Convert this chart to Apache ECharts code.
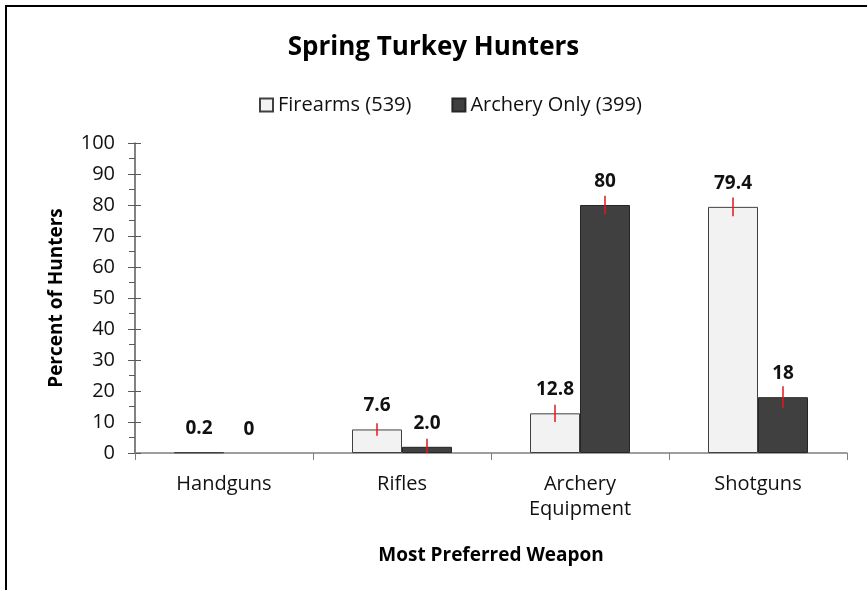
<!DOCTYPE html>
<html>
<head>
<meta charset="utf-8">
<script src="https://cdn.jsdelivr.net/npm/echarts@6/dist/echarts.min.js"></script>
<style>
  html, body { margin: 0; padding: 0; background: #fff; }
  #chart { width: 867px; height: 590px; }
</style>
</head>
<body>
<div id="chart"></div>
<script>
// weapon categories
var categories = ['Handguns', 'Rifles', 'Archery\nEquipment', 'Shotguns'];
// percent of hunters
var firearms = [0.2, 7.6, 12.8, 79.4];
var archery = [0, 2.0, 80, 18];
var firearmsLabels = ['0.2', '7.6', '12.8', '79.4'];
var archeryLabels = ['0', '2.0', '80', '18'];
// error margins
var firearmsErr = [0, 2, 2.8, 3];
var archeryErr = [0, 2.6, 3, 3.5];
var yTicks = [0, 10, 20, 30, 40, 50, 60, 70, 80, 90, 100];

var FONT = '"Open Sans", sans-serif';
var BAR_W = 50;

// a zero bar has no outline in the original
function barData(vals) {
  return vals.map(function (v) {
    return v === 0 ? { value: v, itemStyle: { borderWidth: 0 } } : v;
  });
}

function errData(vals, errs) {
  return vals.map(function (v, i) {
    return [i, Math.max(0, v - errs[i]), v + errs[i]];
  });
}

function errSeries(vals, errs, side) {
  return {
    type: 'custom',
    xAxisIndex: 0,
    yAxisIndex: 0,
    z: 5,
    silent: true,
    itemStyle: { color: '#e8141b' },
    data: errData(vals, errs),
    renderItem: function (params, api) {
      if (api.value(2) - api.value(1) <= 0) return null;
      var lo = api.coord([api.value(0), api.value(1)]);
      var hi = api.coord([api.value(0), api.value(2)]);
      var x = lo[0] + side * BAR_W / 2;
      return {
        type: 'line',
        shape: { x1: x, y1: lo[1], x2: x, y2: hi[1] },
        style: { stroke: '#e8141b', fill: null, lineWidth: 1.5 }
      };
    }
  };
}

var chart = echarts.init(document.getElementById('chart'));
var option = {
  backgroundColor: '#fff',
  animation: false,
  textStyle: { fontFamily: FONT },
  graphic: [{
    type: 'rect',
    shape: { x: 6, y: 6, width: 900, height: 640 },
    style: { fill: 'none', stroke: '#000', lineWidth: 2 },
    silent: true,
    z: -1
  }],
  title: {
    text: 'Spring Turkey Hunters',
    left: 'center',
    top: 30,
    textStyle: { fontFamily: FONT, fontSize: 26, fontWeight: 'bold', color: '#000' }
  },
  legend: {
    data: ['Firearms (539)', 'Archery Only (399)'],
    top: 90,
    left: 254,
    icon: 'rect',
    itemWidth: 13,
    itemHeight: 13,
    itemGap: 40,
    textStyle: { fontFamily: FONT, fontSize: 20, color: '#111' }
  },
  grid: { left: 135, right: 20, top: 143, bottom: 137 },
  xAxis: {
    type: 'category',
    data: categories,
    name: 'Most Preferred Weapon',
    nameLocation: 'middle',
    nameGap: 93,
    nameTextStyle: { fontFamily: FONT, fontSize: 19, fontWeight: 'bold', color: '#000' },
    axisLine: { lineStyle: { color: '#7f7f7f', width: 1.5 } },
    axisTick: { show: true, length: 7, lineStyle: { color: '#7f7f7f' } },
    axisLabel: { fontFamily: FONT, fontSize: 20, color: '#111', margin: 19, lineHeight: 25 }
  },
  yAxis: [{
    type: 'value',
    min: 0,
    max: 100,
    interval: 10,
    name: 'Percent of Hunters',
    nameLocation: 'middle',
    nameGap: 69,
    nameTextStyle: { fontFamily: FONT, fontSize: 19, fontWeight: 'bold', color: '#000' },
    axisLine: { show: true, lineStyle: { color: '#595959', width: 1.5 } },
    axisTick: { show: true, length: 7, lineStyle: { color: '#595959' } },
    minorTick: { show: true, splitNumber: 2, length: 6, lineStyle: { color: '#595959' } },
    splitLine: { show: false },
    axisLabel: {
      fontFamily: FONT, fontSize: 20, color: '#111', margin: 20,
      formatter: function (v) { return yTicks.indexOf(v) >= 0 ? String(v) : ''; }
    }
  }, {
    // inner half of the crossing major ticks
    type: 'value',
    position: 'left',
    min: 0,
    max: 100,
    interval: 10,
    axisLine: { show: false },
    axisTick: { show: true, inside: true, length: 6, lineStyle: { color: '#595959' } },
    axisLabel: { show: false },
    splitLine: { show: false }
  }],
  series: [{
    name: 'Firearms (539)',
    type: 'bar',
    data: barData(firearms),
    barWidth: BAR_W,
    barGap: '0%',
    itemStyle: { color: '#f2f2f2', borderColor: '#404040', borderWidth: 1 },
    label: {
      show: true,
      position: 'top',
      distance: 14,
      fontFamily: FONT,
      fontSize: 19,
      fontWeight: 'bold',
      color: '#111',
      formatter: function (p) { return firearmsLabels[p.dataIndex]; }
    }
  }, {
    name: 'Archery Only (399)',
    type: 'bar',
    data: barData(archery),
    barWidth: BAR_W,
    barGap: '0%',
    itemStyle: { color: '#404040', borderColor: '#262626', borderWidth: 1 },
    label: {
      show: true,
      position: 'top',
      distance: 14,
      fontFamily: FONT,
      fontSize: 19,
      fontWeight: 'bold',
      color: '#111',
      formatter: function (p) { return archeryLabels[p.dataIndex]; }
    }
  },
  errSeries(firearms, firearmsErr, -1),
  errSeries(archery, archeryErr, 1)
  ]
};
chart.setOption(option);
</script>
</body>
</html>
